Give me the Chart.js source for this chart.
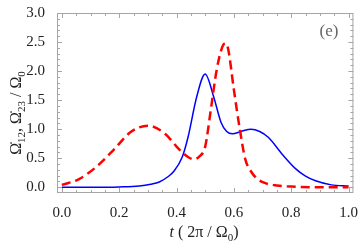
<!DOCTYPE html>
<html>
<head>
<meta charset="utf-8">
<script src="https://cdn.jsdelivr.net/npm/chart.js@4/dist/chart.umd.min.js"></script>
<style>
  html, body { margin: 0; padding: 0; background: #fff; }
  #wrap { width: 361px; height: 243px; position: relative; }
</style>
</head>
<body>
<div id="wrap"><canvas id="chart" width="361" height="243"></canvas></div>
<script>
// t in units of 2π/Ω0
const T_RED = [0, 0.06, 0.12, 0.18, 0.24, 0.3, 0.36, 0.4, 0.42, 0.44, 0.46, 0.48, 0.5, 0.52, 0.54, 0.56, 0.57, 0.58, 0.6, 0.62, 0.64, 0.66, 0.68, 0.71, 0.75, 0.8, 0.9, 1.0];
const OMEGA_23 = [0.04, 0.14, 0.35, 0.64, 0.95, 1.06, 0.92, 0.70, 0.60, 0.52, 0.48, 0.53, 0.70, 1.35, 2.02, 2.42, 2.48, 2.38, 1.68, 1.02, 0.48, 0.27, 0.15, 0.07, 0.03, 0.01, 0.0, 0.0];

const T_BLUE = [0, 0.1, 0.2, 0.27, 0.31, 0.34, 0.37, 0.39, 0.42, 0.44, 0.47, 0.5, 0.53, 0.555, 0.575, 0.595, 0.625, 0.66, 0.69, 0.72, 0.77, 0.815, 0.85, 0.885, 0.94, 1.0];
const OMEGA_12 = [0, 0, 0.005, 0.02, 0.05, 0.09, 0.18, 0.27, 0.52, 0.86, 1.55, 1.95, 1.55, 1.12, 0.96, 0.92, 0.96, 1.00, 0.96, 0.86, 0.56, 0.32, 0.19, 0.11, 0.04, 0.02];

const X_TICKS = [0, 0.2, 0.4, 0.6, 0.8, 1.0];
const Y_TICKS = [0, 0.5, 1.0, 1.5, 2.0, 2.5, 3.0];

const SERIF = "'Liberation Serif', 'DejaVu Serif', serif";
const FRAME = "#a6a6a6";

function pts(xs, ys) {
  return xs.map((x, i) => ({ x: x, y: ys[i] }));
}

function minorValues(from, to, step) {
  const out = [];
  for (let v = from; v <= to + 1e-9; v += step) out.push(+v.toFixed(4));
  return out;
}

// draw the frame with inside ticks on all four sides
const framePlugin = {
  id: "frame",
  afterDraw(chart) {
    const { ctx, chartArea: a, scales } = chart;
    const xs = scales.x, ys = scales.y;
    ctx.save();
    ctx.strokeStyle = FRAME;
    ctx.lineWidth = 1;
    ctx.strokeRect(a.left + 0.5, a.top + 0.5, a.right - a.left - 1, a.bottom - a.top - 1);
    ctx.beginPath();
    for (const v of minorValues(0, 1, 0.05)) {
      const major = X_TICKS.some((t) => Math.abs(t - v) < 1e-6);
      const len = major ? 5 : 3;
      const px = Math.round(xs.getPixelForValue(v)) + 0.5;
      ctx.moveTo(px, a.bottom); ctx.lineTo(px, a.bottom - len);
      ctx.moveTo(px, a.top); ctx.lineTo(px, a.top + len);
    }
    for (const v of minorValues(0, 3, 0.1)) {
      const major = Y_TICKS.some((t) => Math.abs(t - v) < 1e-6);
      const len = major ? 5 : 3;
      const py = Math.round(ys.getPixelForValue(v)) + 0.5;
      ctx.moveTo(a.left, py); ctx.lineTo(a.left + len, py);
      ctx.moveTo(a.right, py); ctx.lineTo(a.right - len, py);
    }
    ctx.stroke();

    // panel label
    ctx.fillStyle = "#666";
    ctx.font = "17px " + SERIF;
    ctx.textAlign = "center";
    ctx.textBaseline = "middle";
    ctx.fillText("(e)", 329, 32);

    // axis titles with subscripts
    const big = "16px " + SERIF, small = "11px " + SERIF;
    function runs(parts) {
      let w = 0;
      for (const p of parts) { ctx.font = p.font; w += ctx.measureText(p.text).width; }
      return w;
    }
    function drawRuns(parts, x0, y0) {
      let x = x0;
      ctx.textAlign = "left";
      ctx.textBaseline = "alphabetic";
      for (const p of parts) {
        ctx.font = p.font;
        ctx.fillText(p.text, x, y0 + (p.dy || 0));
        x += ctx.measureText(p.text).width;
      }
    }
    ctx.fillStyle = "#222";
    const yTitle = [
      { text: "\u03A9\u0307", font: big },
      { text: "12", font: small, dy: 4 },
      { text: ", \u03A9\u0307", font: big },
      { text: "23", font: small, dy: 4 },
      { text: " / \u03A9", font: big },
      { text: "0", font: small, dy: 4 },
    ];
    ctx.save();
    ctx.translate(21, 113);
    ctx.rotate(-Math.PI / 2);
    drawRuns(yTitle, -runs(yTitle) / 2, 0);
    ctx.restore();

    const xTitle = [
      { text: "t", font: "italic 16px " + SERIF },
      { text: " ( 2\u03C0 / \u03A9", font: big },
      { text: "0", font: small, dy: 4 },
      { text: ")", font: big },
    ];
    drawRuns(xTitle, 204 - runs(xTitle) / 2, 237);
    ctx.restore();
  },
};

new Chart(document.getElementById("chart"), {
  type: "line",
  data: {
    datasets: [
      {
        label: "Omega23",
        data: pts(T_RED, OMEGA_23),
        borderColor: "#ff0000",
        borderWidth: 2.5,
        borderDash: [9, 5],
        pointRadius: 0,
        cubicInterpolationMode: "monotone",
        fill: false,
      },
      {
        label: "Omega12",
        data: pts(T_BLUE, OMEGA_12),
        borderColor: "#0000ff",
        borderWidth: 1.5,
        pointRadius: 0,
        cubicInterpolationMode: "monotone",
        fill: false,
      },
    ],
  },
  options: {
    responsive: false,
    animation: false,
    layout: { padding: { top: 9, right: 6, left: 0, bottom: 0 } },
    plugins: { legend: { display: false }, tooltip: { enabled: false } },
    scales: {
      x: {
        type: "linear",
        min: -0.017,
        max: 1.017,
        afterBuildTicks: (s) => { s.ticks = X_TICKS.map((v) => ({ value: v })); },
        afterFit: (s) => { s.height = 50; },
        grid: { display: false },
        border: { display: false },
        ticks: {
          autoSkip: false,
          maxRotation: 0,
          padding: 3,
          color: "#222",
          font: { family: "Liberation Serif", size: 15 },
          callback: (v) => v.toFixed(1),
        },
      },
      y: {
        type: "linear",
        min: -0.1,
        max: 3.0,
        afterBuildTicks: (s) => { s.ticks = Y_TICKS.map((v) => ({ value: v })); },
        afterFit: (s) => { s.width = 57; },
        grid: { display: false },
        border: { display: false },
        ticks: {
          autoSkip: false,
          padding: 4,
          color: "#222",
          font: { family: "Liberation Serif", size: 15 },
          callback: (v) => v.toFixed(1),
        },
      },
    },
  },
  plugins: [framePlugin],
});
</script>
</body>
</html>
